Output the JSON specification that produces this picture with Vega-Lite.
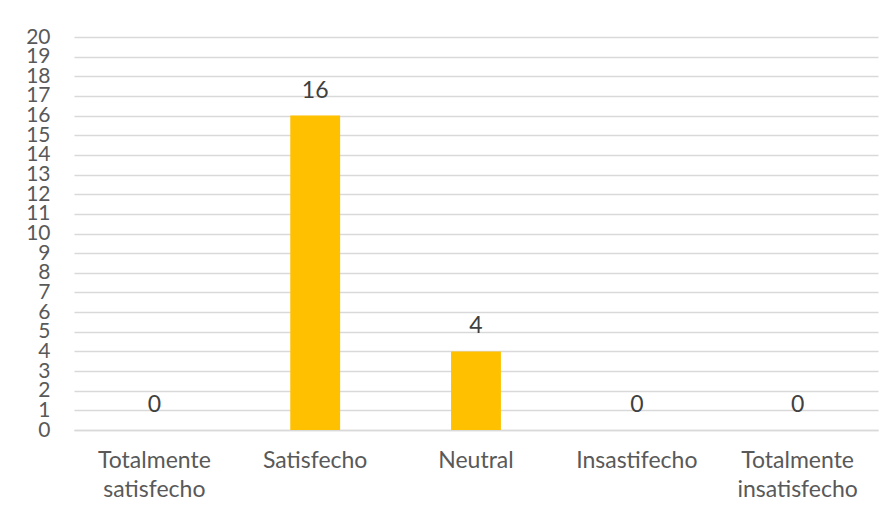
{
  "$schema": "https://vega.github.io/schema/vega-lite/v6.json",
  "width": 804,
  "height": 393,
  "autosize": {"type": "none"},
  "padding": {"left": 74, "top": 37, "right": 15, "bottom": 88},
  "background": "white",
  "data": {
    "values": [
      {"categoria": "Totalmente satisfecho", "n": 0},
      {"categoria": "Satisfecho", "n": 16},
      {"categoria": "Neutral", "n": 4},
      {"categoria": "Insastifecho", "n": 0},
      {"categoria": "Totalmente insatisfecho", "n": 0}
    ]
  },
  "encoding": {
    "x": {
      "field": "categoria",
      "type": "nominal",
      "sort": null,
      "scale": {"paddingInner": 0.69, "paddingOuter": 0.345},
      "axis": {
        "title": null,
        "labelAngle": 0,
        "labelExpr": "split(datum.label, ' ')",
        "labelLineHeight": 29,
        "labelPadding": 19,
        "labelFont": "Lato",
        "labelFontSize": 23,
        "labelColor": "#595959",
        "labelOverlap": false,
        "ticks": false,
        "domainColor": "#D9D9D9",
        "domainWidth": 1.5
      }
    },
    "y": {
      "field": "n",
      "type": "quantitative",
      "scale": {"domain": [0, 20], "nice": false},
      "axis": {
        "title": null,
        "values": [0,1,2,3,4,5,6,7,8,9,10,11,12,13,14,15,16,17,18,19,20],
        "labelFont": "Lato",
        "labelFontSize": 21,
        "labelColor": "#595959",
        "labelPadding": 24,
        "labelBaseline": "middle",
        "labelOverlap": false,
        "labelBound": false,
        "ticks": false,
        "domain": false,
        "gridColor": "#D9D9D9",
        "gridWidth": 1.5
      }
    }
  },
  "layer": [
    {"mark": {"type": "bar", "color": "#FFC000"}},
    {
      "mark": {"type": "text", "baseline": "bottom", "dy": -13, "font": "Lato", "fontSize": 23, "color": "#404040"},
      "encoding": {"text": {"field": "n", "type": "quantitative"}}
    }
  ],
  "config": {"view": {"stroke": null}}
}
